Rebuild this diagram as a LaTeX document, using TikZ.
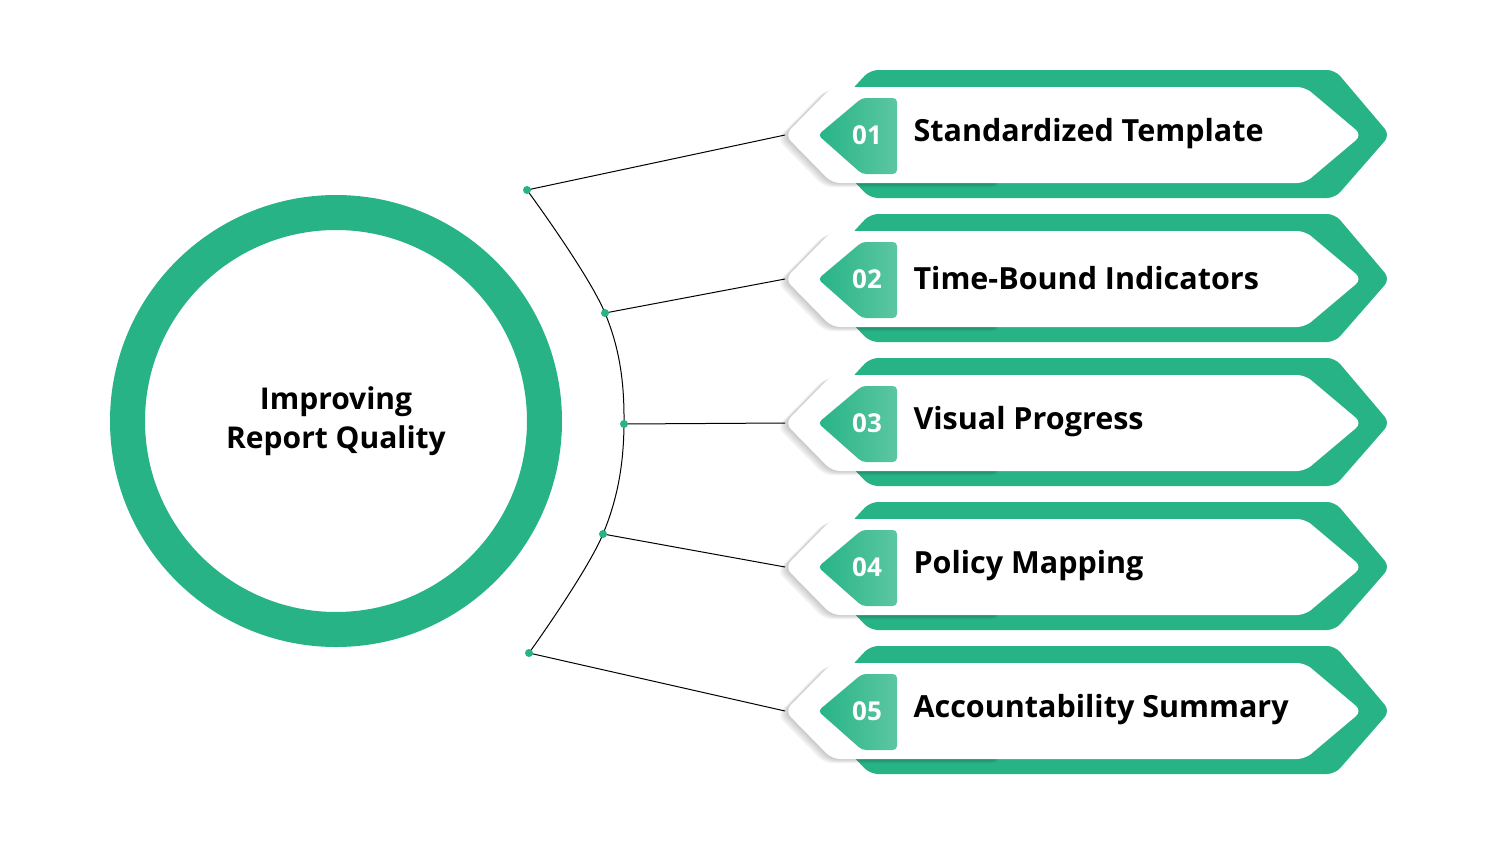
\documentclass[tikz,border=0pt]{standalone}
\usepackage{fontspec}
\setmainfont{Open Sans}
\definecolor{gr}{HTML}{27B386}
\definecolor{grl}{HTML}{5CC7A2}
\begin{document}
\begin{tikzpicture}[x=1pt,y=-1pt,
  dot/.style={circle,fill=gr,inner sep=0,minimum size=8pt},
  lbl/.style={font=\fontsize{30.5}{32}\selectfont\bfseries,anchor=west},
  num/.style={font=\fontsize{26}{28}\selectfont\bfseries,text=white}]
\useasboundingbox[fill=white] (0,0) rectangle (1500,844);
% circle
\fill[gr,even odd rule] (336,421) circle (226) (336,421) circle (191);
\node[font=\fontsize{30}{39}\selectfont\bfseries,align=center] (c) at (336,421) {Improving\\Report Quality};
% arc
\coordinate (d1) at (527,190);
\coordinate (d2) at (605,313);
\coordinate (d3) at (624,424);
\coordinate (d4) at (603,534);
\coordinate (d5) at (529,653);
\draw[line width=1pt] plot[smooth,tension=0.6] coordinates {(d1) (d2) (d3) (d4) (d5)};
\foreach \i in {0,...,4}{
  \begin{scope}[yshift=-\i*144]
    \fill[gr,rounded corners=8] (870,70) -- (1335,70) -- (1390,135) -- (1335,198) -- (870,198) -- (810,135) -- cycle;
    \foreach \s in {2,4,6,8}{
      \fill[black,opacity=0.05,rounded corners=8] (785-\s,135+\s/2) -- (832-\s,87+\s/2) -- (1000,87+\s/2) -- (1000,183+\s/2) -- (832-\s,183+\s/2) -- cycle;
    }
    \fill[white,rounded corners=8] (785,135) -- (832,87) -- (1305,87) -- (1362,135) -- (1305,183) -- (832,183) -- cycle;
    \shade[left color=gr,right color=grl,rounded corners=4] (818,135) -- (862,98) -- (897,98) -- (897,174) -- (862,174) -- cycle;
    \coordinate (t\i) at (785,135);
  \end{scope}
}
\foreach \i/\t/\n in {0/Standardized Template/01,1/Time-Bound Indicators/02,2/Visual Progress/03,3/Policy Mapping/04,4/Accountability Summary/05}{
  \node[num] (n\i) at (867,135+\i*144) {\n};
  \node[lbl] (l\i) at (910,134+\i*144) {\t};
}
\draw[line width=1pt] (d1) -- (t0) (d2) -- (t1) (d3) -- (t2) (d4) -- (t3) (d5) -- (t4);
\foreach \d in {d1,d2,d3,d4,d5} \node[dot] at (\d) {};
\end{tikzpicture}
\end{document}
